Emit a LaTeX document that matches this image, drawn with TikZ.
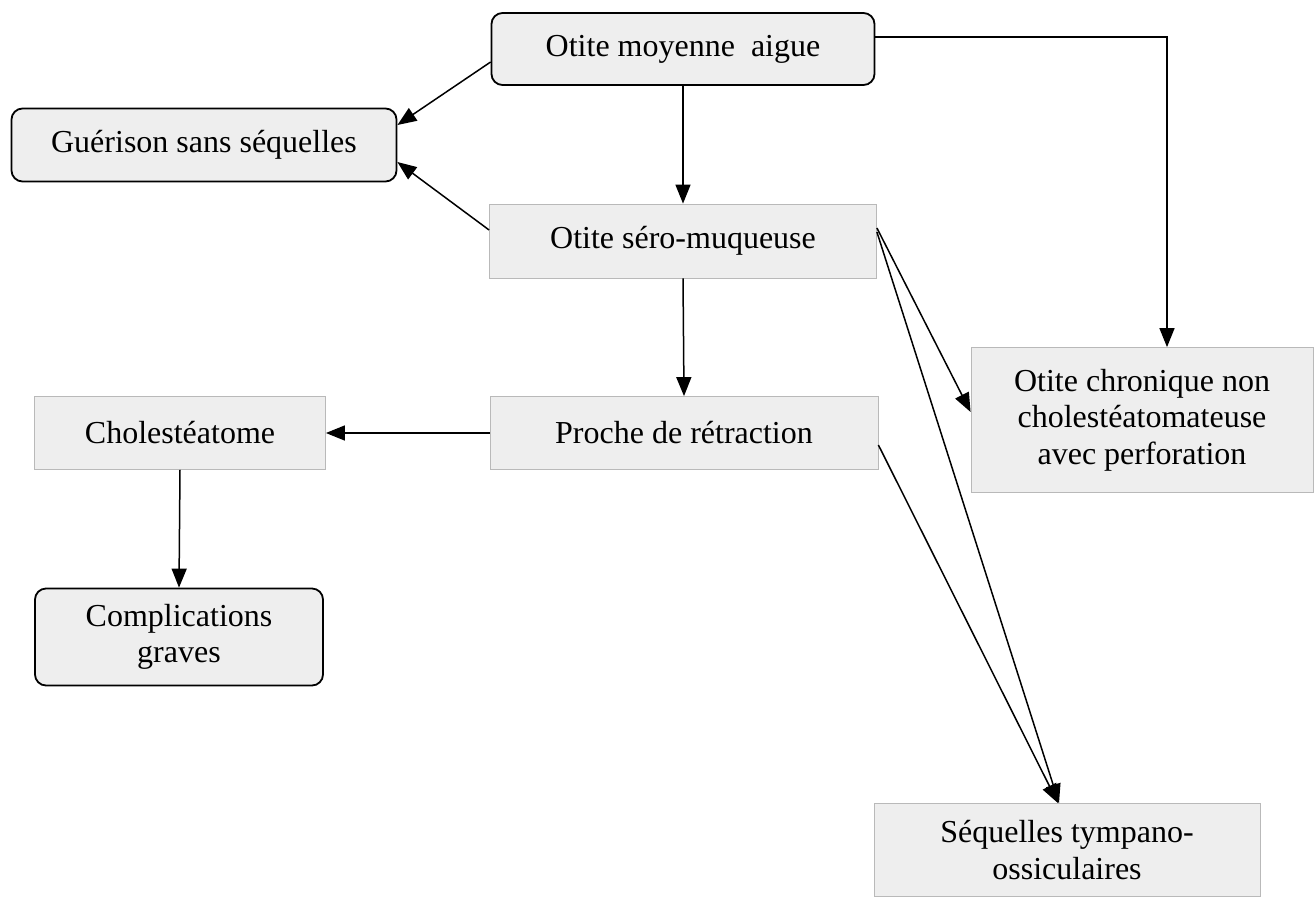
\documentclass[tikz,border=0pt]{standalone}
\usepackage{fontspec}
\setmainfont{Liberation Serif}
\usetikzlibrary{arrows.meta}
\tikzset{
  box/.style={fill=gray!13, inner sep=0pt, align=center,
    font=\fontsize{32}{36.5}\selectfont},
  roundbox/.style={box, draw=black, line width=1.8pt, rounded corners=11pt},
  flatbox/.style={box, draw=gray!55, line width=0.8pt},
  link/.style={line width=1.5pt, -{Triangle[length=19pt,width=15pt]}}
}
\begin{document}
\begin{tikzpicture}[x=1pt,y=-1pt]
\useasboundingbox (0,0) rectangle (1314,898);

% Boxes
\node[roundbox, minimum width=383pt, minimum height=72pt] (oma) at (683,49) {Otite moyenne\ \ aigue};
\node[roundbox, minimum width=385pt, minimum height=73pt] (guer) at (204,145) {Guérison sans séquelles};
\node[flatbox, minimum width=387pt, minimum height=74pt] (osm) at (683,241) {Otite séro-muqueuse};
\node[flatbox, minimum width=342pt, minimum height=145pt] (chron) at (1142,420) {Otite chronique non\\cholestéatomateuse\\avec perforation};
\node[flatbox, minimum width=291pt, minimum height=73pt] (chol) at (180,433) {Cholestéatome};
\node[flatbox, minimum width=388pt, minimum height=73pt] (proche) at (684,433) {Proche de rétraction};
\node[roundbox, minimum width=288pt, minimum height=97pt] (compl) at (179,637) {Complications\\graves};
\node[flatbox, minimum width=386pt, minimum height=93pt] (seq) at (1067,850) {Séquelles tympano-\\ossiculaires};

% Arrows
\draw[link] ([yshift=-13pt]oma.west) -- ([yshift=20pt]guer.east);
\draw[link] ([yshift=11pt]osm.west) -- ([yshift=-17pt]guer.east);
\draw[link] (oma.south) -- (osm.north);
\draw[link] ([yshift=12pt]oma.east) -| ([xshift=25pt]chron.north);
\draw[link] ([yshift=13pt]osm.east) -- ([yshift=8pt]chron.west);
\draw[link] ([yshift=9pt]osm.east) -- ([xshift=-8pt]seq.north);
\draw[link] (osm.south) -- (proche.north);
\draw[link] (proche.west) -- (chol.east);
\draw[link] ([yshift=-12pt]proche.east) -- ([xshift=-9pt]seq.north);
\draw[link] (chol.south) -- (compl.north);
\end{tikzpicture}
\end{document}
